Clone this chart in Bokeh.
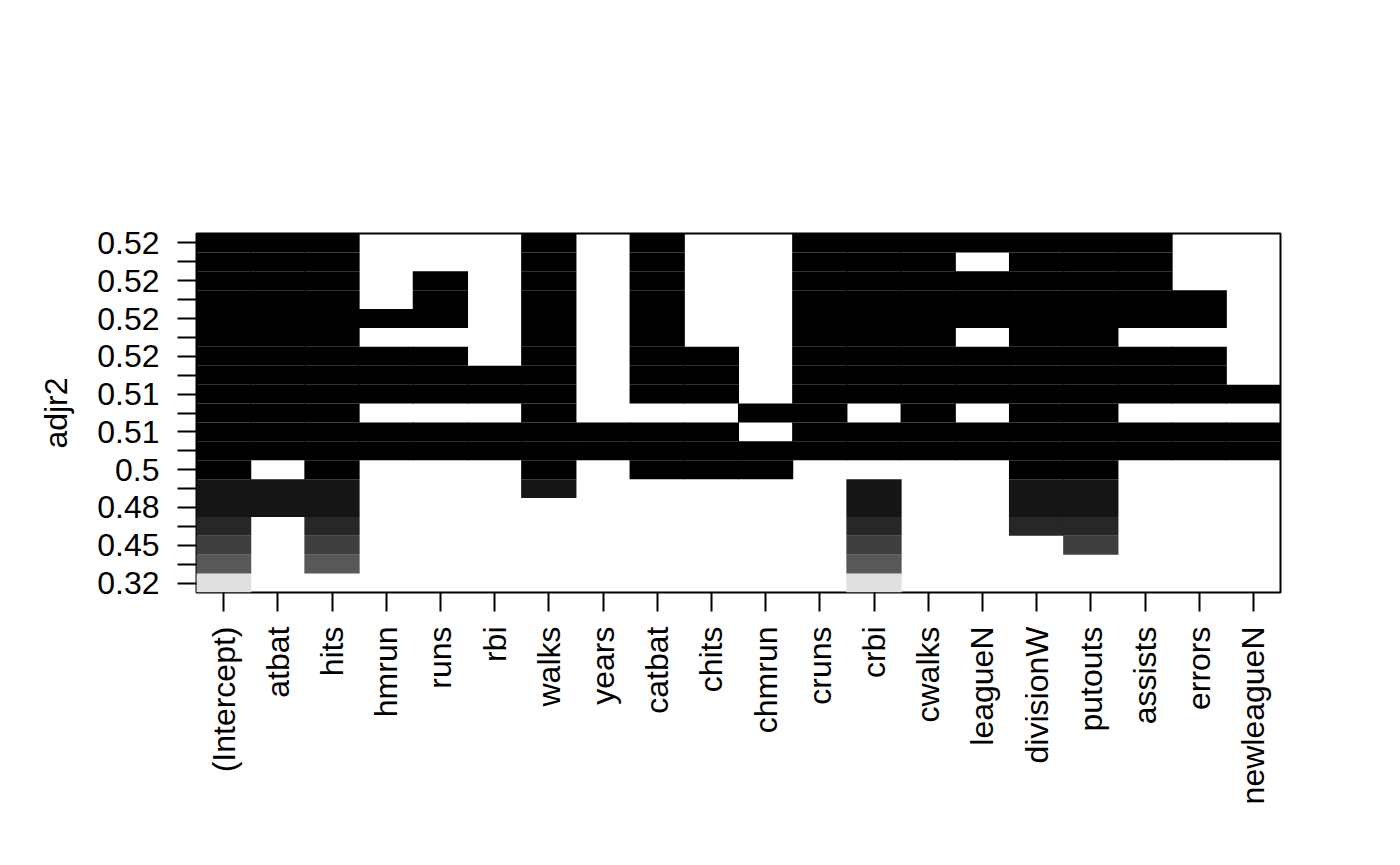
import math
from bokeh.plotting import figure
from bokeh.models import ColumnDataSource, FixedTicker, LinearColorMapper
from bokeh.transform import transform
from bokeh.embed import file_html
from bokeh.resources import INLINE

variables = ["(Intercept)", "atbat", "hits", "hmrun", "runs", "rbi", "walks", "years",
             "catbat", "chits", "chmrun", "cruns", "crbi", "cwalks", "leagueN",
             "divisionW", "putouts", "assists", "errors", "newleagueN"]

# models ordered by adjusted R^2, ascending (bottom row first)
adjr2 = [0.3189, 0.4208, 0.4451, 0.4673, 0.4809, 0.4972, 0.5008, 0.5106, 0.5120, 0.5128,
         0.5138, 0.5155, 0.5170, 0.5180, 0.5190, 0.5200, 0.5210, 0.5215, 0.5225]

models = [
    ["crbi"],
    ["hits", "crbi"],
    ["hits", "crbi", "putouts"],
    ["hits", "crbi", "divisionW", "putouts"],
    ["atbat", "hits", "crbi", "divisionW", "putouts"],
    ["atbat", "hits", "walks", "crbi", "divisionW", "putouts"],
    ["hits", "walks", "catbat", "chits", "chmrun", "divisionW", "putouts"],
    ["atbat", "hits", "hmrun", "runs", "rbi", "walks", "years", "catbat", "chits", "chmrun",
     "cruns", "crbi", "cwalks", "leagueN", "divisionW", "putouts", "assists", "errors", "newleagueN"],
    ["atbat", "hits", "hmrun", "runs", "rbi", "walks", "years", "catbat", "chits",
     "cruns", "crbi", "cwalks", "leagueN", "divisionW", "putouts", "assists", "errors", "newleagueN"],
    ["atbat", "hits", "walks", "chmrun", "cruns", "cwalks", "divisionW", "putouts"],
    ["atbat", "hits", "hmrun", "runs", "rbi", "walks", "catbat", "chits", "cruns", "crbi",
     "cwalks", "leagueN", "divisionW", "putouts", "assists", "errors", "newleagueN"],
    ["atbat", "hits", "hmrun", "runs", "rbi", "walks", "catbat", "chits", "cruns", "crbi",
     "cwalks", "leagueN", "divisionW", "putouts", "assists", "errors"],
    ["atbat", "hits", "hmrun", "runs", "walks", "catbat", "chits", "cruns", "crbi",
     "cwalks", "leagueN", "divisionW", "putouts", "assists", "errors"],
    ["atbat", "hits", "walks", "catbat", "cruns", "crbi", "cwalks", "divisionW", "putouts"],
    ["atbat", "hits", "hmrun", "runs", "walks", "catbat", "cruns", "crbi", "cwalks",
     "leagueN", "divisionW", "putouts", "assists", "errors"],
    ["atbat", "hits", "runs", "walks", "catbat", "cruns", "crbi", "cwalks",
     "leagueN", "divisionW", "putouts", "assists", "errors"],
    ["atbat", "hits", "runs", "walks", "catbat", "cruns", "crbi", "cwalks",
     "leagueN", "divisionW", "putouts", "assists"],
    ["atbat", "hits", "walks", "catbat", "cruns", "crbi", "cwalks", "divisionW", "putouts", "assists"],
    ["atbat", "hits", "walks", "catbat", "cruns", "crbi", "cwalks", "leagueN",
     "divisionW", "putouts", "assists"],
]

grays = ["#000000", "#151515", "#272727", "#3f3f3f", "#585858",
         "#707070", "#8a8a8a", "#a6a6a6", "#c3c3c3", "#e0e0e0"]

# build cells
xs, ys, zs = [], [], []
for r, (val, inc) in enumerate(zip(adjr2, models), start=1):
    included = set(["(Intercept)"] + inc)
    for c, name in enumerate(variables, start=1):
        if name in included:
            xs.append(c)
            ys.append(r)
            zs.append(-math.log(val))
src = ColumnDataSource(dict(x=xs, y=ys, z=zs))

neg = [-math.log(v) for v in adjr2]
mapper = LinearColorMapper(palette=grays, low=min(neg), high=max(neg))

FONT = "Liberation Sans"

p = figure(width=1400, height=865, output_backend="svg", toolbar_location=None,
           x_range=(0.5, len(variables) + 0.5), y_range=(0.5, len(adjr2) + 0.5),
           min_border_left=196, min_border_right=120, min_border_top=233, min_border_bottom=273,
           background_fill_color="white", border_fill_color="white")
p.grid.visible = False
p.outline_line_color = "black"
p.outline_line_width = 2

p.rect(x="x", y="y", width=1.02, height=1, source=src,
       fill_color=transform("z", mapper), line_color=None)

# x axis
p.xaxis.ticker = FixedTicker(ticks=list(range(1, len(variables) + 1)))
p.xaxis.major_label_overrides = {i: n for i, n in enumerate(variables, start=1)}
p.xaxis.major_label_orientation = math.pi / 2
p.xaxis.minor_tick_line_color = None
p.xaxis.axis_line_color = None

# y axis
ylabels = {}
for i, v in enumerate(adjr2, start=1):
    ylabels[i] = f"{v:.2g}" if i % 2 == 1 else ""
p.yaxis.ticker = FixedTicker(ticks=list(range(1, len(adjr2) + 1)))
p.yaxis.major_label_overrides = ylabels
p.yaxis.minor_tick_line_color = None
p.yaxis.axis_line_color = None
p.yaxis.axis_label = "adjr2"
p.yaxis.major_label_orientation = "horizontal"

for ax in (p.xaxis[0], p.yaxis[0]):
    ax.major_tick_in = 0
    ax.major_tick_out = 19
    ax.major_tick_line_width = 2
    ax.major_tick_line_color = "black"
    ax.major_label_text_font = FONT
    ax.major_label_text_font_size = "32px"
    ax.major_label_text_color = "black"
    ax.axis_label_text_font = FONT
    ax.axis_label_text_font_size = "32px"
    ax.axis_label_text_font_style = "normal"
    ax.axis_label_text_color = "black"

p.xaxis.major_label_standoff = 15
p.yaxis.major_label_standoff = 18
p.yaxis.axis_label_standoff = 20

open("out.html", "w").write(file_html(p, INLINE))
